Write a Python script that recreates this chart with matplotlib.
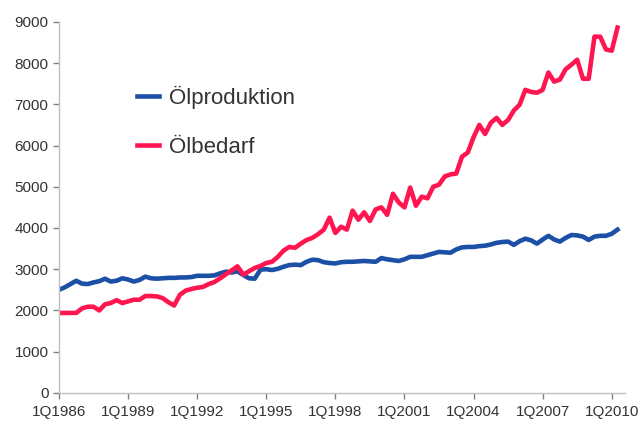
import numpy as np
import matplotlib.pyplot as plt

# quarterly values, 1Q1986 .. 2Q2010
oelproduktion = [
    2500, 2560, 2640, 2720, 2650, 2640, 2680, 2710,
    2770, 2700, 2720, 2780, 2750, 2700, 2740, 2820,
    2780, 2770, 2780, 2790, 2790, 2800, 2800, 2810,
    2840, 2840, 2840, 2850, 2900, 2940, 2920, 2950,
    2860, 2780, 2770, 2990, 3000, 2980, 3010, 3060,
    3100, 3110, 3100, 3180, 3230, 3220, 3170, 3150,
    3140, 3170, 3180, 3180, 3190, 3200, 3190, 3180,
    3270, 3240, 3220, 3200, 3240, 3300, 3300, 3300,
    3340, 3380, 3420, 3410, 3400, 3480, 3530, 3540,
    3540, 3560, 3570, 3600, 3640, 3660, 3670, 3590,
    3680, 3740, 3700, 3620, 3720, 3810, 3720, 3670,
    3760, 3830, 3820, 3790, 3710, 3790, 3810, 3810,
    3860, 3960,
]
oelbedarf = [
    1940, 1940, 1940, 1940, 2050, 2090, 2090, 2000,
    2150, 2180, 2250, 2180, 2220, 2260, 2260, 2350,
    2350, 2340, 2300, 2200, 2120, 2380, 2480, 2520,
    2550, 2570, 2640, 2690, 2780, 2880, 2970, 3070,
    2870, 2950, 3030, 3080, 3150, 3180, 3300, 3450,
    3540, 3520, 3620, 3710, 3760, 3850, 3960, 4250,
    3880, 4030, 3960, 4420, 4200, 4380, 4170, 4450,
    4500, 4320, 4830, 4620, 4500, 4980, 4540, 4760,
    4720, 5000, 5050, 5250, 5300, 5320, 5730, 5830,
    6200, 6500, 6280, 6550, 6670, 6500, 6620, 6850,
    6990, 7350, 7300, 7280, 7350, 7770, 7550, 7600,
    7850, 7960, 8080, 7620, 7620, 8640, 8640, 8330,
    8300, 8860,
]
tick_labels = ["1Q1986", "1Q1989", "1Q1992", "1Q1995", "1Q1998",
               "1Q2001", "1Q2004", "1Q2007", "1Q2010"]

plt.rcParams['font.family'] = ['Liberation Sans', 'DejaVu Sans']

fig = plt.figure(figsize=(6.41, 4.28), dpi=100)
ax = fig.add_axes([0.092, 0.082, 0.883, 0.867])

x = np.arange(len(oelproduktion))
ax.plot(x, oelproduktion, color="#1c4fa6", lw=3.3, label="Ölproduktion",
        solid_joinstyle="round")
ax.plot(x, oelbedarf, color="#ff1650", lw=3.3, label="Ölbedarf",
        solid_joinstyle="round")

ax.set_xlim(0, 98.3)
ax.set_ylim(0, 9000)
ax.set_yticks(np.arange(0, 9001, 1000))
ax.set_xticks(np.arange(0, 97, 12))
ax.set_xticklabels(tick_labels)

for s in ["top", "right"]:
    ax.spines[s].set_visible(False)
for s in ["left", "bottom"]:
    ax.spines[s].set_color("#bfbfbf")
    ax.spines[s].set_linewidth(1.0)
ax.tick_params(axis="both", colors="#808080", labelcolor="#333333",
               labelsize=11, length=4, width=1)
ax.tick_params(axis="x", pad=5)

leg = ax.legend(loc="upper left", bbox_to_anchor=(0.102, 0.882), frameon=False,
                fontsize=16, handlelength=1.0, handletextpad=0.45,
                labelspacing=1.25)
for t in leg.get_texts():
    t.set_color("#333333")

fig.savefig("out.png", dpi=100)
